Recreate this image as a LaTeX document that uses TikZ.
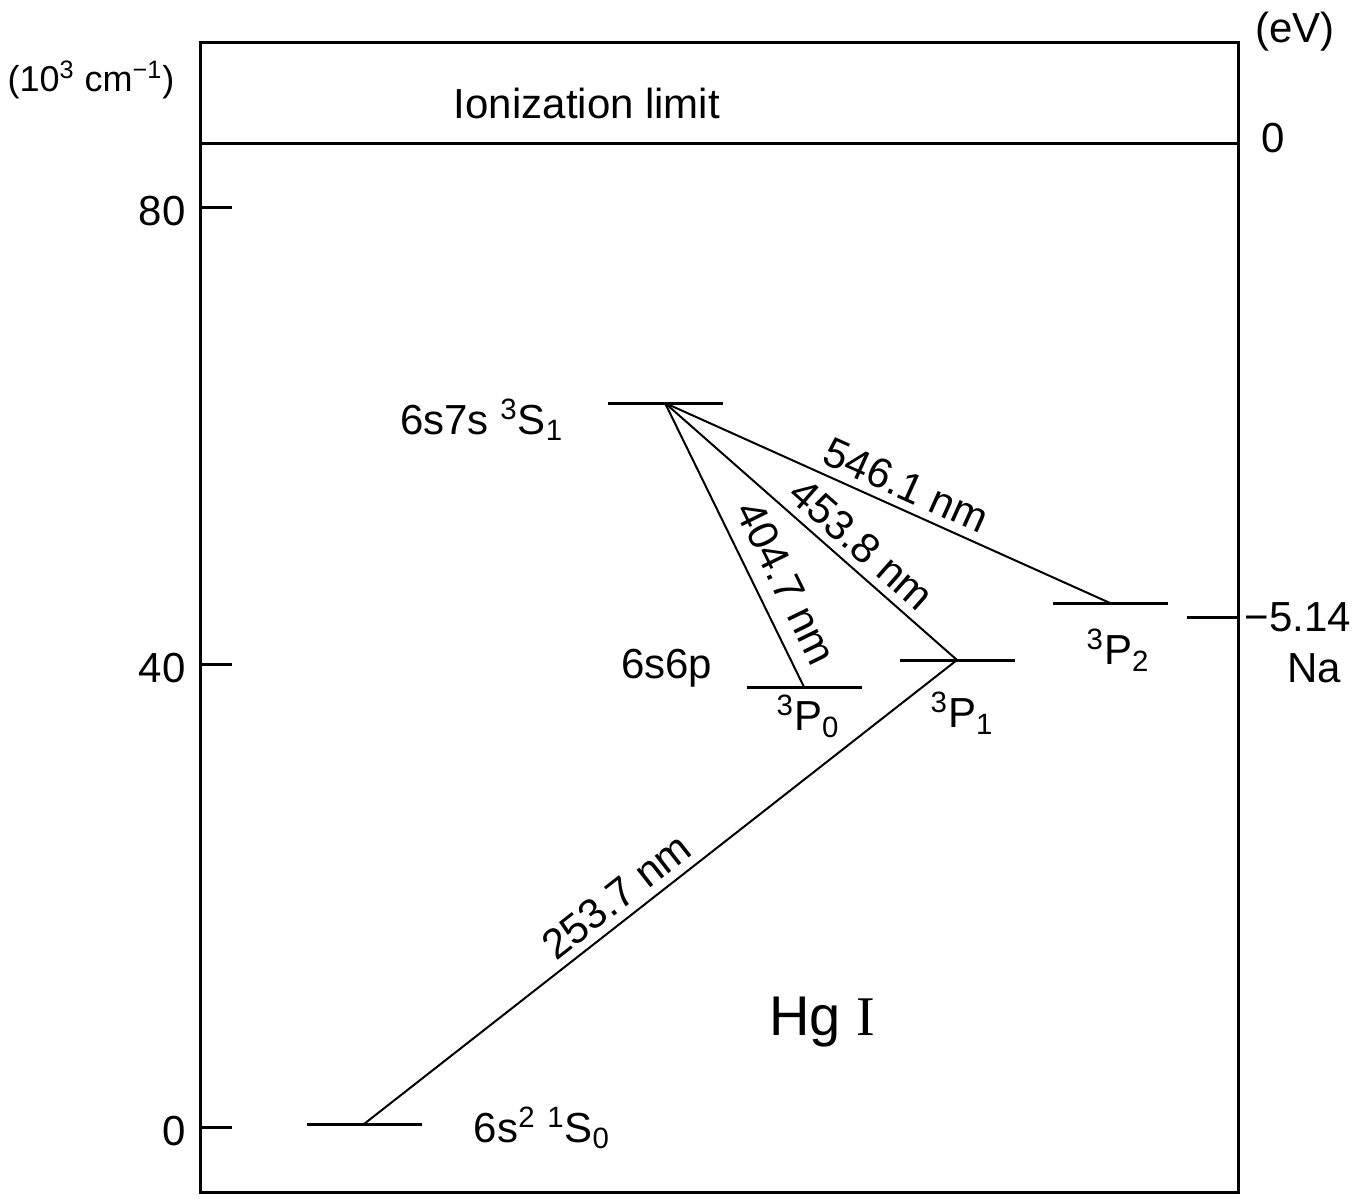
\documentclass[tikz,border=0pt]{standalone}
\usepackage{fontspec}
\setmainfont{Liberation Sans}
\newfontfamily\romanI{Liberation Serif}
\usetikzlibrary{positioning}

\begin{document}
\begin{tikzpicture}[
    x=0.5pt, y=-0.5pt,
    every node/.style={font=\fontsize{21}{24}\selectfont, inner sep=1pt},
    frame/.style={line width=1.5pt},
    level/.style={minimum width=57.5pt, minimum height=0pt, inner sep=0pt, outer sep=0pt},
    lvl/.style={line width=1.5pt},
    trans/.style={line width=1pt},
    wave/.style={sloped, above, inner sep=4pt}
  ]
    \useasboundingbox (0,0) rectangle (1355,1200);

    % frame and ionization limit
    \draw[frame] (200,42) rectangle (1238,1192);
    \draw[frame] (200,143) -- (1238,143);
    \node (ion) at (587,103) {Ionization limit};

    % left scale
    \node[font=\fontsize{18}{22}\selectfont] (unitL) at (91,80) {(10\textsuperscript{3} cm\textsuperscript{−1})};
    \foreach \y/\t in {207/80, 664/40, 1127/0} {
        \draw[frame] (200,\y) -- (232,\y);
        \node[anchor=east] (tick\t) at (188,\y+4) {\t};
    }

    % right scale
    \node (unitR) at (1295,32) {(eV)};
    \node (zeroR) at (1273,138) {0};
    \draw[frame] (1187,617) -- (1238,617);
    \node (naE) at (1298,617) {−5.14};
    \node (na) at (1314,668) {Na};

    % levels
    \node[level] (s7s) at (665,403) {};
    \node[level] (p0) at (804,687) {};
    \node[level] (p1) at (957,660) {};
    \node[level] (p2) at (1110,603) {};
    \node[level] (g) at (364,1124) {};
    \foreach \n in {s7s, p0, p1, p2, g}
        \draw[lvl] (\n.west) -- (\n.east);

    \node[left=21pt of s7s, yshift=-8.5pt] (s7slab) {6s7s \textsuperscript{3}S\textsubscript{1}};
    \node[left=16pt of p0, yshift=9.5pt] (sp) {6s6p};
    \node[below=3pt of p0, xshift=2pt] (p0lab) {\textsuperscript{3}P\textsubscript{0}};
    \node[below=15pt of p1, xshift=2.5pt] (p1lab) {\textsuperscript{3}P\textsubscript{1}};
    \node[below=12pt of p2, xshift=4pt] (p2lab) {\textsuperscript{3}P\textsubscript{2}};
    \node[right=25pt of g, yshift=-2pt] (glab) {6s\textsuperscript{2} \textsuperscript{1}S\textsubscript{0}};
    \node (hg) at (822,1022) {\fontsize{28}{32}\selectfont Hg {\romanI I}};

    % transitions
    \draw[trans] (s7s.center) -- node[wave, pos=0.68, inner sep=7pt] {404.7 nm} (p0.center);
    \draw[trans] (s7s.center) -- node[wave, pos=0.62] {453.8 nm} (p1.center);
    \draw[trans] (s7s.center) -- node[wave, pos=0.52] {546.1 nm} (p2.center);
    \draw[trans] (g.center) -- node[wave, pos=0.45] {253.7 nm} (p1.center);
  \end{tikzpicture}
\end{document}
